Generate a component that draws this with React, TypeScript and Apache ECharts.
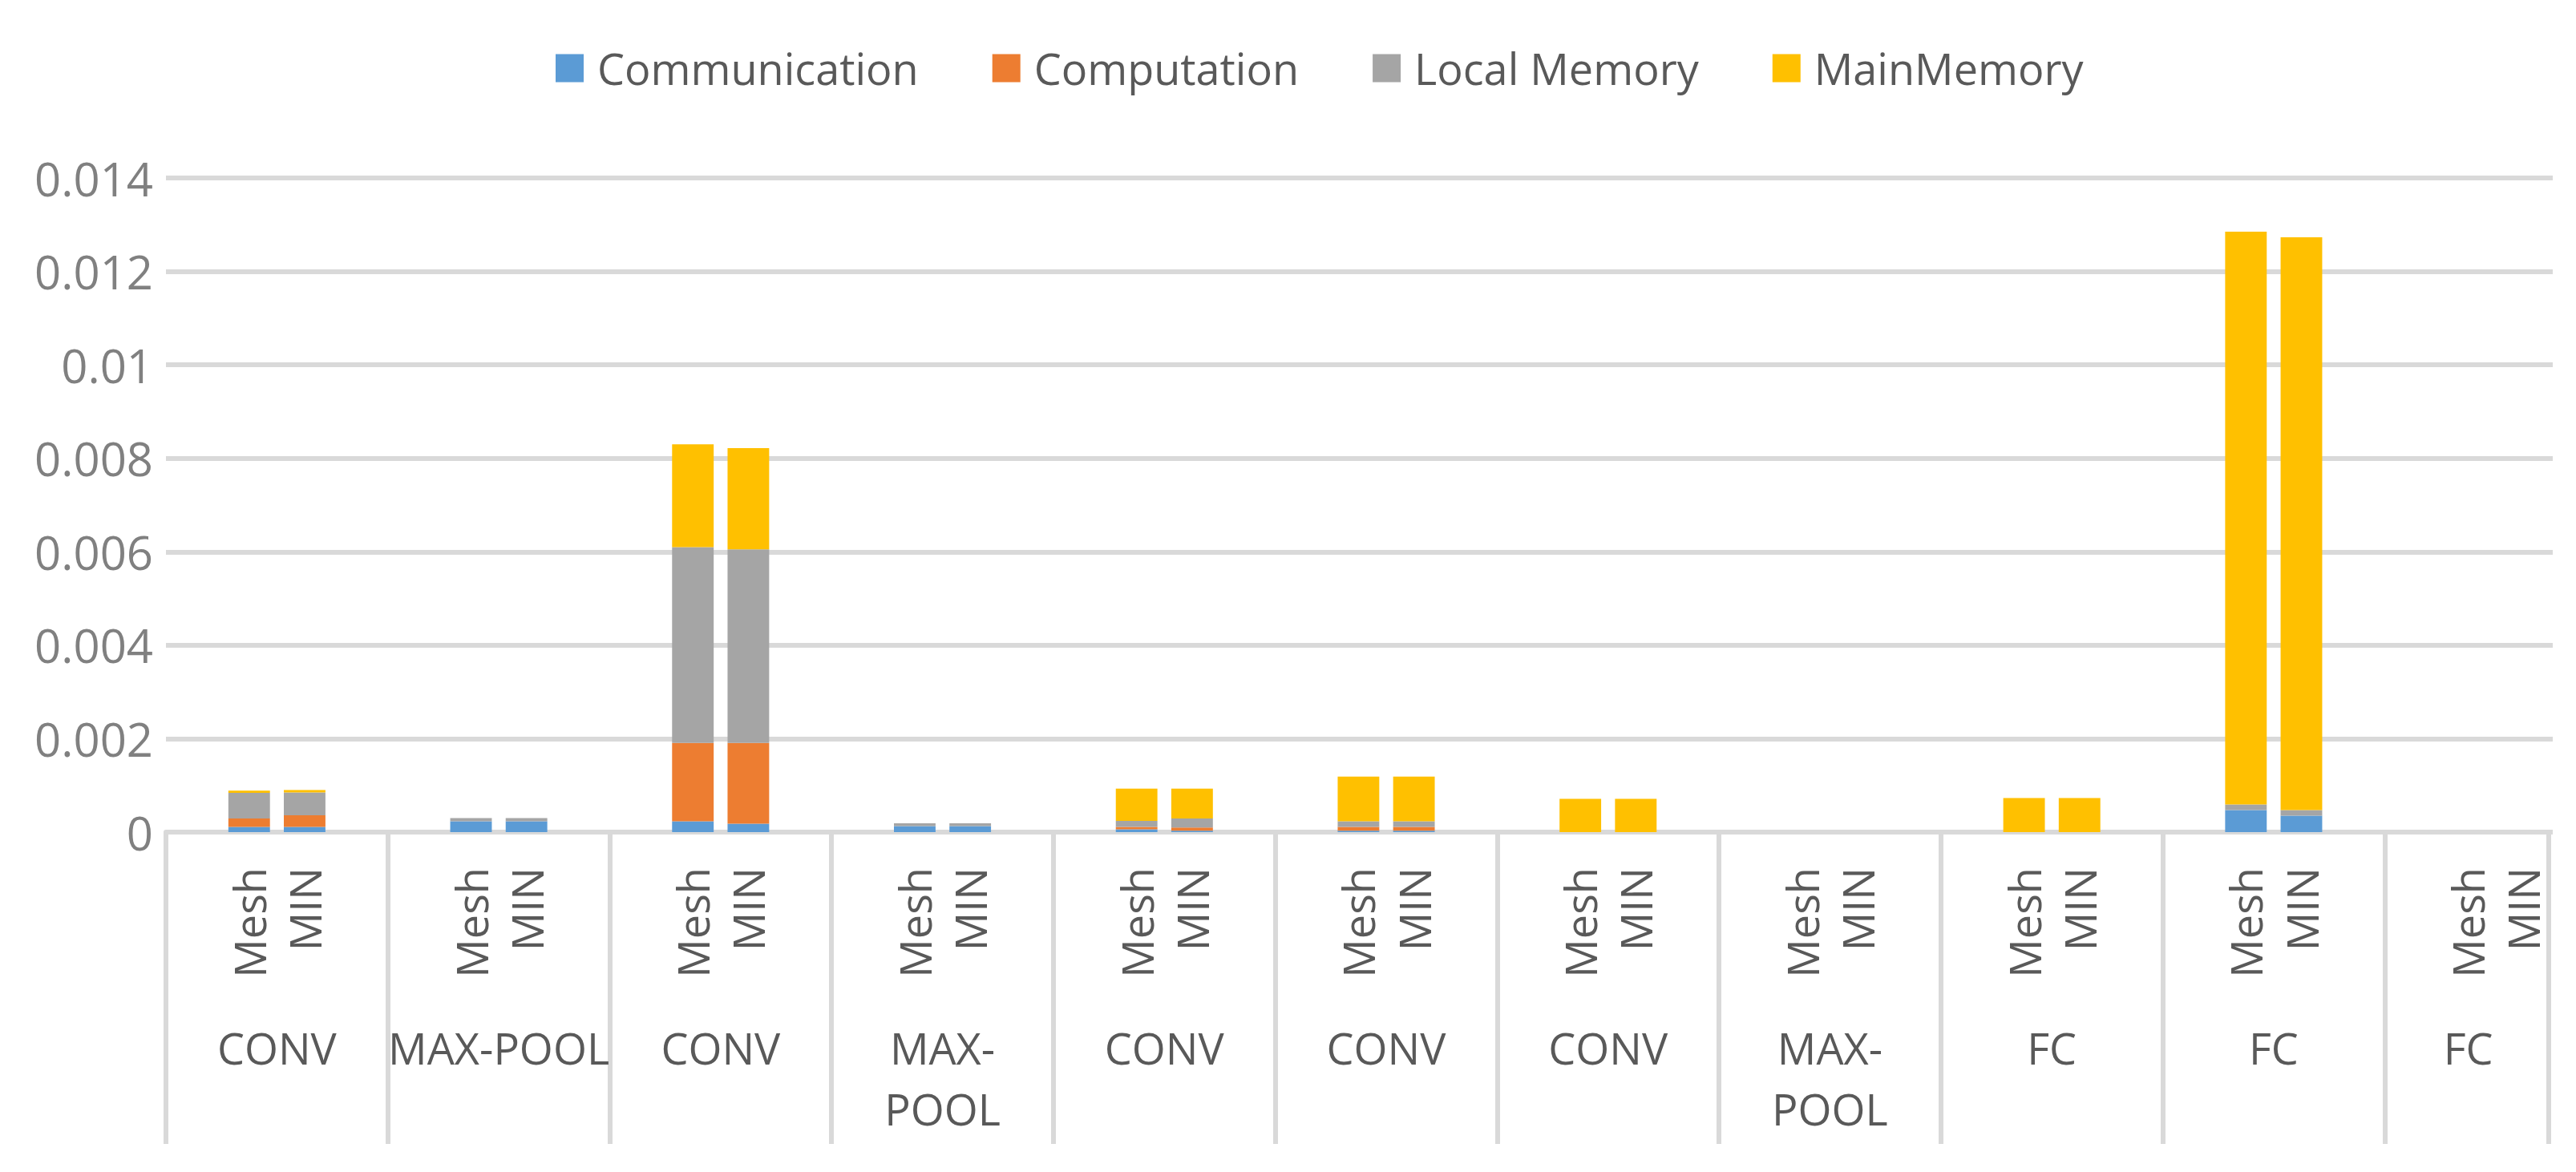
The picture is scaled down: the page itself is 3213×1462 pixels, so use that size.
import React, { useEffect, useRef } from "react";
import * as echarts from "echarts";

// ---- data ----
const groupLabels = ["CONV", "MAX-POOL", "CONV", "MAX-\nPOOL", "CONV", "CONV", "CONV", "MAX-\nPOOL", "FC", "FC", "FC"];
const configLabels = ["Mesh", "MIN"];
const seriesNames = ["Communication", "Computation", "Local Memory", "MainMemory"];
// each entry: [Mesh, MIN]
const communication = [[0.00011, 0.00011], [0.00023, 0.00023], [0.00023, 0.00018], [0.00013, 0.00013], [0.00006, 0.00003], [0.00003, 0.00003], [0, 0], [0, 0], [0, 0], [0.00047, 0.00035], [0, 0]];
const computation = [[0.00018, 0.00025], [0, 0], [0.00168, 0.00173], [0, 0], [0.00005, 0.00007], [0.00008, 0.00008], [0, 0], [0, 0], [0, 0], [0, 0], [0, 0]];
const localMemory = [[0.00055, 0.00049], [0.00007, 0.00007], [0.00419, 0.00414], [0.00006, 0.00006], [0.00013, 0.00019], [0.00012, 0.00012], [0, 0], [0, 0], [0, 0], [0.00012, 0.00012], [0, 0]];
const mainMemory = [[0.00005, 0.00005], [0, 0], [0.0022, 0.00217], [0, 0], [0.00069, 0.00064], [0.00096, 0.00096], [0.00071, 0.00071], [0, 0], [0.00073, 0.00073], [0.01226, 0.01226], [0, 0]];
const yMin = 0;
const yMax = 0.014;
const yStep = 0.002;

const colors = ["#5B9BD5", "#ED7D31", "#A5A5A5", "#FFC000"];
const FONT = "Open Sans";

// each group occupies 4 slots: blank, Mesh, MIN, blank
function slotCategories(): string[] {
  const out: string[] = [];
  groupLabels.forEach(() => {
    out.push("", configLabels[0], configLabels[1], "");
  });
  return out;
}
function slotData(vals: number[][]): (number | null)[] {
  const out: (number | null)[] = [];
  vals.forEach((pair) => {
    out.push(null, pair[0], pair[1], null);
  });
  return out;
}

export default function App() {
  const ref = useRef<HTMLDivElement>(null);
  useEffect(() => {
    if (!ref.current) return;
    const chart = echarts.init(ref.current, undefined, { renderer: "svg" });
    const seriesVals = [communication, computation, localMemory, mainMemory];
    const lastIdx = groupLabels.length - 1;
    chart.setOption({
      animation: false,
      backgroundColor: "#ffffff",
      textStyle: { fontFamily: FONT },
      legend: {
        left: 693,
        top: 58,
        padding: 0,
        icon: "rect",
        itemWidth: 35,
        itemHeight: 35,
        itemGap: 92,
        data: seriesNames,
        textStyle: { fontSize: 54, color: "#595959", fontFamily: FONT, padding: [0, 0, 0, 12] },
      },
      grid: { left: 207, top: 222, height: 816, width: 3044, outerBoundsMode: "none" },
      xAxis: [
        {
          type: "category",
          position: "bottom",
          data: slotCategories(),
          axisLine: { show: true, lineStyle: { color: "#D9D9D9", width: 6 } },
          axisTick: { show: false },
          splitLine: { show: false },
          axisLabel: {
            interval: 0,
            rotate: 90,
            margin: 44,
            fontSize: 54,
            color: "#595959",
            fontFamily: FONT,
          },
        },
        {
          type: "category",
          position: "bottom",
          data: groupLabels,
          axisLine: { show: false },
          axisTick: { show: true, length: 389, lineStyle: { color: "#D9D9D9", width: 6 } },
          splitLine: { show: false },
          axisLabel: {
            interval: 0,
            margin: 231,
            fontSize: 54,
            lineHeight: 76,
            verticalAlign: "top",
            color: "#595959",
            fontFamily: FONT,
            formatter: (v: string, i: number) => (i === lastIdx ? `{last|${v}}` : v),
            rich: {
              last: { fontSize: 54, lineHeight: 76, color: "#595959", fontFamily: FONT, padding: [0, 68, 0, 0] },
            },
          },
        },
      ],
      yAxis: {
        type: "value",
        min: yMin,
        max: yMax,
        interval: yStep,
        axisLine: { show: false },
        axisTick: { show: false },
        splitLine: { lineStyle: { color: "#D9D9D9", width: 6 } },
        axisLabel: {
          margin: 16,
          fontSize: 58,
          color: "#808080",
          fontFamily: FONT,
          formatter: (v: number) => String(parseFloat(v.toFixed(6))),
        },
      },
      graphic: [
        {
          type: "line",
          shape: { x1: 3179, y1: 1038, x2: 3179, y2: 1427 },
          style: { stroke: "#D9D9D9", lineWidth: 6 },
        },
      ],
      series: seriesNames.map((name, k) => ({
        name,
        type: "bar",
        stack: "total",
        xAxisIndex: 0,
        barCategoryGap: "25%",
        itemStyle: { color: colors[k] },
        data: slotData(seriesVals[k]),
      })),
    });
    return () => chart.dispose();
  }, []);
  return (
    <div style={{ position: "absolute", left: 0, top: 0, width: 3184, height: 1462, overflow: "hidden", background: "#fff" }}>
      <div ref={ref} style={{ width: 3470, height: 1462 }} />
    </div>
  );
}
